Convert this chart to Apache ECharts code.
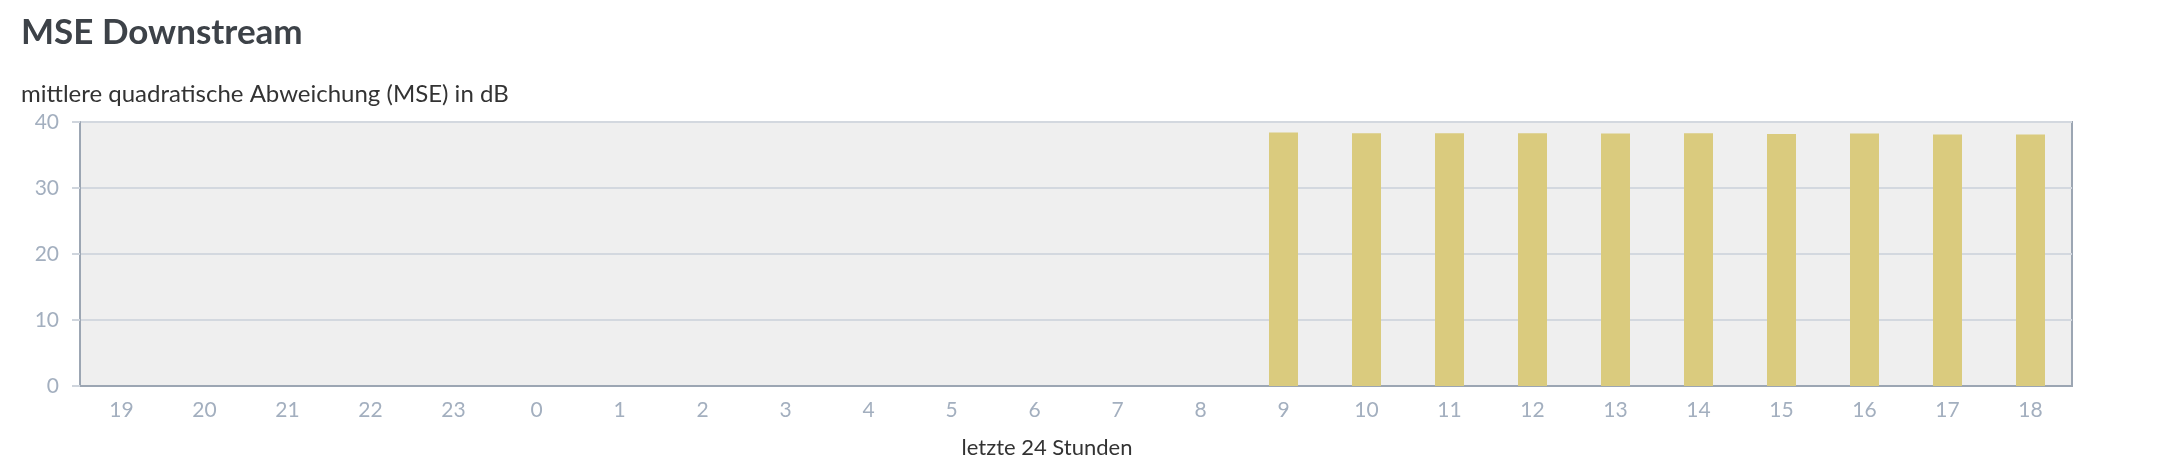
<!DOCTYPE html>
<html>
<head>
<meta charset="utf-8">
<title>MSE Downstream</title>
<script src="https://cdn.jsdelivr.net/npm/echarts@6/dist/echarts.min.js"></script>
<style>
    html, body { margin: 0; padding: 0; background: #fff; }
    #mse-chart { width: 2160px; height: 470px; }
</style>
</head>
<body>
<div id="mse-chart"></div>
<script>
// Stunden der letzten 24h (Kategorien)
var hours = ['19', '20', '21', '22', '23', '0', '1', '2', '3', '4', '5', '6',
             '7', '8', '9', '10', '11', '12', '13', '14', '15', '16', '17', '18'];
// MSE-Werte in dB, vor 9 Uhr keine Daten
var mseValues = [0, 0, 0, 0, 0, 0, 0, 0, 0, 0, 0, 0, 0, 0,
                 38.4, 38.3, 38.3, 38.3, 38.25, 38.3, 38.2, 38.25, 38.1, 38.1];
var yTicks = { min: 0, max: 40, interval: 10 };

var fontFamily = 'Lato, "Noto Sans", sans-serif';

var mseChart = echarts.init(document.getElementById('mse-chart'));
var mseOption = {
    animation: false,
    textStyle: { fontFamily: fontFamily },
    title: [
        {
            text: 'MSE Downstream',
            left: 21,
            top: 15,
            padding: 0,
            textStyle: { fontSize: 35, fontWeight: 'bold', color: '#3d4248', fontFamily: fontFamily }
        },
        {
            text: 'mittlere quadratische Abweichung (MSE) in dB',
            left: 21,
            top: 82,
            padding: 0,
            textStyle: { fontSize: 24, fontWeight: 'normal', color: '#333', fontFamily: fontFamily }
        }
    ],
    grid: {
        left: 80,
        right: 88,
        top: 122,
        bottom: 84,
        show: true,
        backgroundColor: '#efefef',
        borderColor: '#9ca6b3',
        borderWidth: 2
    },
    xAxis: {
        type: 'category',
        data: hours,
        name: 'letzte 24 Stunden',
        nameLocation: 'middle',
        nameGap: 51,
        nameTextStyle: { fontSize: 22, color: '#333', padding: [0, 58, 0, 0] },
        axisLine: { lineStyle: { color: '#9ca6b3', width: 2 } },
        axisTick: { alignWithLabel: true, length: 10, lineStyle: { color: '#cfd5dd', width: 2 } },
        axisLabel: { fontSize: 21, color: '#a3afbf', margin: 14 }
    },
    yAxis: {
        type: 'value',
        min: yTicks.min,
        max: yTicks.max,
        interval: yTicks.interval,
        axisLine: { show: true, lineStyle: { color: '#9ca6b3', width: 2 } },
        axisTick: { show: true, length: 8, lineStyle: { color: '#cfd5dd', width: 2 } },
        axisLabel: { fontSize: 21, color: '#a3afbf', margin: 21 },
        splitLine: { lineStyle: { color: '#d3d8df', width: 2 } }
    },
    series: [
        {
            name: 'MSE',
            type: 'bar',
            data: mseValues,
            barWidth: 29,
            itemStyle: { color: '#dacb7e' }
        }
    ]
};
mseChart.setOption(mseOption);
window.onresize = mseChart.resize;
</script>
</body>
</html>
